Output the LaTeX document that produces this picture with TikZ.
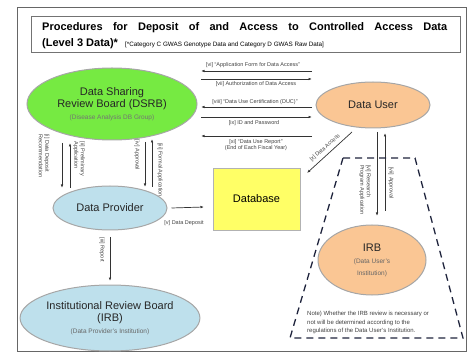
\documentclass[tikz,border=0pt]{standalone}
\usepackage{fontspec}
\setmainfont{Liberation Sans}
\usetikzlibrary{arrows.meta,shapes.geometric}
\definecolor{dsrbgreen}{RGB}{118,234,66}
\definecolor{provblue}{RGB}{190,224,236}
\definecolor{userorange}{RGB}{250,198,148}
\definecolor{dbyellow}{RGB}{255,255,102}
\definecolor{trapblue}{RGB}{30,35,60}

\begin{document}
\begin{tikzpicture}[x=1pt,y=-1pt,
  oval/.style={ellipse,draw=black!35,line width=1pt,inner sep=0pt,align=center,text=black!85},
  lbl/.style={font=\fontsize{5.5}{6.5}\selectfont,inner sep=0pt,text=black!75},
  flow/.style={-{Latex[length=3.5pt,width=2.6pt]},line width=0.7pt,black!80},
  big/.style={font=\fontsize{11}{13}\selectfont}]
  \useasboundingbox (0,0) rectangle (468,363);
  \draw[black!60,line width=1pt] (17,8) rectangle (466,351);
  \draw[black!55,line width=0.8pt] (31,16) rectangle (460,52);
  \node[anchor=west,inner sep=0pt,font=\fontsize{11}{13}\selectfont\bfseries] (title) at (42,28)
    {\makebox[405pt][s]{Procedures for Deposit of and Access to Controlled Access Data}};
  \node[anchor=west,inner sep=0pt,font=\fontsize{11}{13}\selectfont\bfseries] (level) at (42,44) {(Level 3 Data)*};
  \node[anchor=west,inner sep=0pt,font=\fontsize{6.3}{7}\selectfont] (cat) at (125,44.5)
    {[*Category C GWAS Genotype Data and Category D GWAS Raw Data]};

  \node[oval,fill=dsrbgreen,minimum width=170,minimum height=72] (dsrb) at (112,104)
    {\fontsize{11}{15}\selectfont Data Sharing\\
     \fontsize{11}{12}\selectfont Review Board (DSRB)\\
     \fontsize{6.5}{8}\selectfont\color{black!55}(Disease Analysis DB Group)};
  \node[oval,fill=userorange,minimum width=114,minimum height=46,big] (user) at (373,105) {Data User};
  \node[oval,fill=provblue,minimum width=114,minimum height=44,big] (prov) at (110,208) {Data Provider};
  \node[draw=black!30,fill=dbyellow,minimum width=87,minimum height=62,big] (db) at (256.5,199) {Database};
  \node[oval,fill=userorange,minimum width=108,minimum height=70] (irbu) at (372,260)
    {\fontsize{11}{13}\selectfont IRB\\
     \fontsize{6.5}{12}\selectfont\color{black!60}(Data User’s\\
     \fontsize{6.5}{12}\selectfont\color{black!60}Institution)};
  \node[oval,fill=provblue,minimum width=170,minimum height=66] (irbp) at (110,318)
    {\fontsize{11}{15}\selectfont Institutional Review Board\\
     \fontsize{11}{11}\selectfont (IRB)\\
     \fontsize{6.5}{8}\selectfont\color{black!60}(Data Provider’s Institution)};

  \coordinate (a6l) at (201,71);  \coordinate (a6r) at (312,71);
  \coordinate (a7l) at (201,79);  \coordinate (a7r) at (312,79);
  \coordinate (a8l) at (201,107); \coordinate (a8r) at (312,107);
  \coordinate (a9l) at (201,117); \coordinate (a9r) at (312,117);
  \coordinate (a11l) at (201,136); \coordinate (a11r) at (312,136);
  \draw[flow] (a6r) -- (a6l);
  \draw[flow] (a7l) -- (a7r);
  \draw[flow] (a8r) -- (a8l);
  \draw[flow] (a9l) -- (a9r);
  \draw[flow] (a11r) -- (a11l);
  \node[lbl] (l6) at (253,65.5) {[vi] “Application Form for Data Access”};
  \node[lbl] (l7) at (256,84.5) {[vii] Authorization of Data Access};
  \node[lbl] (l8) at (255,102) {[viii] “Data Use Certification (DUC)”};
  \node[lbl] (l9) at (254,123) {[ix] ID and Password};
  \node[lbl,align=center] (l11) at (256,145) {[xi] “Data Use Report”\\(End of Each Fiscal Year)};

  \coordinate (d1t) at (62,143);  \coordinate (d1b) at (62,188);
  \coordinate (d2t) at (70,143);  \coordinate (d2b) at (70,188);
  \coordinate (d4t) at (145,142); \coordinate (d4b) at (145,187);
  \coordinate (d3t) at (152,139); \coordinate (d3b) at (152,187);
  \draw[flow] (d1t) -- (d1b);
  \draw[flow] (d2b) -- (d2t);
  \draw[flow] (d4t) -- (d4b);
  \draw[flow] (d3b) -- (d3t);
  \node[lbl,rotate=-90,align=left] (l1) at (44,156) {[i] Data Deposit\\Recommendation};
  \node[lbl,rotate=-90,align=left] (l2) at (79,159) {[ii] Preliminary\\Application};
  \node[lbl,rotate=-90] (l4) at (137,155) {[iv] Approval};
  \node[lbl,rotate=-90] (l3) at (160,170) {[iii] Formal Application};

  \coordinate (dep) at (204,207);
  \draw[flow] (prov.east) ++(4,0) coordinate (prv) (prv) -- (dep);
  \node[lbl] (l5) at (184,223) {[v] Data Deposit};

  \coordinate (rpt) at (110,237); \coordinate (rpb) at (110,281);
  \draw[flow] (rpt) -- (rpb);
  \node[lbl,rotate=-90] (lr) at (102,250) {[iii] Report};

  \coordinate (xa) at (352,132); \coordinate (xb) at (307,173);
  \draw[flow] (xa) -- (xb);
  \node[lbl,rotate=42] (lx) at (325,148) {[x] Data Access};

  \coordinate (u1t) at (377,132); \coordinate (u1b) at (377,216);
  \coordinate (u2t) at (385,133); \coordinate (u2b) at (385,211);
  \draw[flow] (u1t) -- (u1b);
  \draw[flow] (u2b) -- (u2t);
  \node[lbl,rotate=-90,align=left] (lu1) at (365,190) {[vi] Research\\Program Application};
  \node[lbl,rotate=-90] (lu2) at (391,183) {[vii] Approval};

  \draw[trapblue,line width=1.3pt,dash pattern=on 7pt off 5pt]
    (343,158) -- (415,158) -- (463,338) -- (290,338) -- cycle;
  \node[anchor=north west,inner sep=0pt,align=left,font=\fontsize{6}{8.5}\selectfont,text=black!75] (note) at (307,311)
    {Note) Whether the IRB review is necessary or\\not will be determined according to the\\regulations of the Data User’s Institution.};
\end{tikzpicture}
\end{document}
